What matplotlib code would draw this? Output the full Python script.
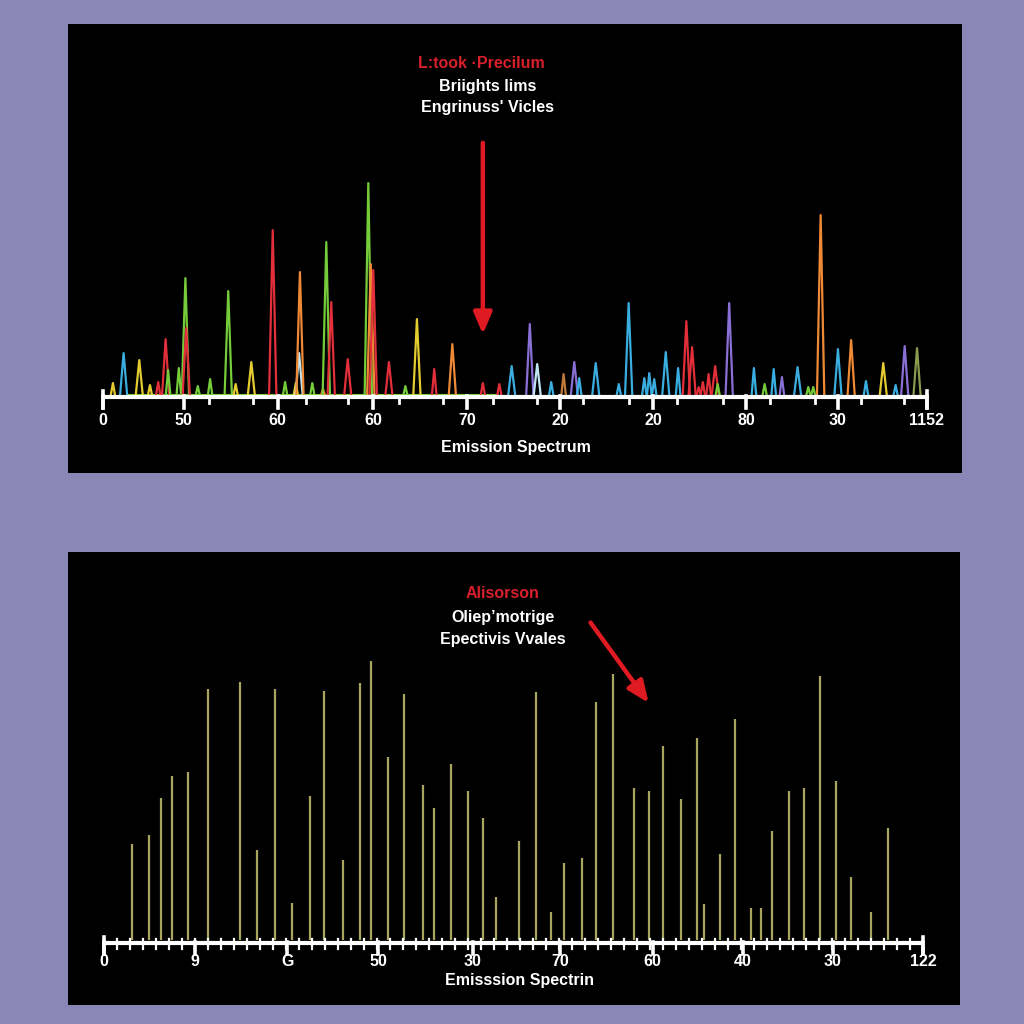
import matplotlib.pyplot as plt
import numpy as np

plt.rcParams['font.family'] = ['Liberation Sans', 'DejaVu Sans']

BG = '#8a87b7'
COLORS = {'g': '#74cc3a', 'r': '#e22f3a', 'o': '#ee8a35', 'y': '#e4cc30',
          'b': '#3aaee0', 'p': '#8a70d6', 'c': '#bfe6f2', 'n': '#c0783a',
          'v': '#8a9a50'}

# top panel: emission peaks (position, intensity, colour key)
em_pos = [1.2, 2.5, 4.4, 5.7, 6.7, 7.6, 7.9, 9.2, 10.0, 10.1, 11.5, 13.0, 15.2,
          16.1, 18.0, 20.6, 22.1, 23.4, 23.8, 23.9, 25.4, 26.7, 27.1, 27.7,
          29.7, 32.2, 32.5, 32.8, 34.7, 36.7, 38.1, 40.2, 42.4, 46.1, 48.1,
          49.6, 51.8, 52.7, 54.4, 55.9, 57.2, 57.8, 59.8, 62.6, 63.8, 65.7,
          66.3, 66.9, 68.3, 69.8, 70.8, 71.5, 72.3, 72.8, 73.5, 74.3, 74.6,
          76.0, 79.0, 80.3, 81.4, 82.4, 84.3, 85.6, 86.2, 87.1, 89.2, 90.8,
          92.6, 94.7, 96.2, 97.3, 98.8]
em_int = [14, 44, 37, 12, 15, 58, 27, 29, 119, 69, 11, 18, 106,
          13, 35, 167, 15, 14, 44, 125, 14, 8, 155, 95,
          38, 214, 133, 127, 35, 11, 78, 28, 53, 14, 13,
          31, 73, 33, 15, 23, 35, 19, 34, 13, 94, 19,
          24, 18, 45, 29, 76, 50, 10, 15, 23, 31, 13,
          94, 29, 13, 28, 20, 30, 10, 10, 182, 48, 57,
          16, 34, 12, 51, 49]
em_col = ['y', 'b', 'y', 'y', 'r', 'r', 'g', 'g', 'g', 'r', 'g', 'g', 'g',
          'y', 'y', 'r', 'g', 'y', 'c', 'o', 'g', 'o', 'g', 'r',
          'r', 'g', 'o', 'r', 'r', 'g', 'y', 'r', 'o', 'r', 'r',
          'b', 'p', 'c', 'b', 'n', 'p', 'b', 'b', 'b', 'b', 'b',
          'b', 'b', 'b', 'b', 'r', 'r', 'r', 'r', 'r', 'r', 'g',
          'p', 'b', 'g', 'b', 'p', 'b', 'g', 'g', 'o', 'b', 'o',
          'b', 'y', 'b', 'p', 'v']
em_ticks = [0, 9.8, 21.2, 32.8, 44.2, 55.5, 66.8, 78.1, 89.2, 100.0]
em_labels = ['0', '50', '60', '60', '70', '20', '20', '80', '30', '1152']
em_minor = [12.9, 18.2, 24.6, 29.7, 35.9, 41.3, 47.3, 52.7, 58.3, 63.8,
            69.7, 75.2, 80.9, 86.4, 92.0, 97.2]

# bottom panel: absorption lines
ab_pos = [3.4, 5.5, 7.0, 8.3, 10.3, 12.7, 16.6, 18.7, 20.9, 23.0, 25.1, 26.9,
          29.2, 31.3, 32.6, 34.7, 36.6, 39.0, 40.3, 42.4, 44.4, 46.3, 47.8,
          50.7, 52.7, 54.6, 56.2, 58.4, 60.1, 62.1, 64.7, 66.5, 68.3, 70.5,
          72.4, 73.2, 75.2, 77.1, 79.0, 80.2, 81.5, 83.6, 85.5, 87.4, 89.4,
          91.2, 93.6, 95.7]
ab_int = [99, 108, 145, 167, 171, 254, 261, 93, 254, 40, 147, 252,
          83, 260, 282, 186, 249, 158, 135, 179, 152, 125, 46,
          102, 251, 31, 80, 85, 241, 269, 155, 152, 197, 144,
          205, 39, 89, 224, 35, 35, 112, 152, 155, 267, 162,
          66, 31, 115]
ab_ticks = [0, 11.1, 22.4, 33.5, 45.0, 55.7, 67.0, 78.0, 89.0, 100.0]
ab_labels = ['0', '9', 'G', '50', '30', '70', '60', '40', '30', '122']

fig = plt.figure(figsize=(10.24, 10.24), dpi=100)
fig.patch.set_facecolor(BG)


def draw_axis(ax, ticks, labels, minor, lab_y, minor_up, minor_lw):
    ax.plot([ticks[0], ticks[-1]], [0, 0], color='white', lw=3,
            solid_capstyle='butt', zorder=5)
    for t, lab in zip(ticks, labels):
        ax.plot([t, t], [1, -11], color='white', lw=2.6, zorder=5)
        ax.text(t, lab_y, lab, color='white', fontsize=11.5,
                fontweight='bold', ha='center', va='center')
    for t in (ticks[0], ticks[-1]):
        ax.plot([t, t], [6, -11], color='white', lw=2.6, zorder=5)
    for t in minor:
        ax.plot([t, t], [minor_up, -6], color='white', lw=minor_lw, zorder=5)


def label(ax, x, y, s, color='white'):
    ax.text(x, y, s, color=color, fontsize=11.5, fontweight='bold',
            ha='center', va='center', transform=ax.transAxes)


# ---------- top: emission ----------
ax1 = fig.add_axes([0.0664, 0.538, 0.873, 0.4385])
ax1.set_facecolor('black')
ax1.set_xlim(-4.25, 104.25)
ax1.set_ylim(-76, 373)
ax1.set_xticks([])
ax1.set_yticks([])
for s in ax1.spines.values():
    s.set_visible(False)

ax1.plot([3, 48], [2, 2], color=COLORS['g'], lw=1.5, zorder=1)
for x, h, c in zip(em_pos, em_int, em_col):
    w = 0.3 if h < 30 else 0.45
    ax1.plot([x - w, x, x + w], [0, h, 0], color=COLORS[c], lw=1.6, zorder=2)

draw_axis(ax1, em_ticks, em_labels, em_minor, -23, 0, 2)

label(ax1, 0.462, 0.913, 'L:took \u00b7Precilum', '#d8202c')
label(ax1, 0.470, 0.862, 'Briights lims')
label(ax1, 0.469, 0.815, "Engrinuss' Vicles")
label(ax1, 0.501, 0.058, 'Emission Spectrum')
ax1.annotate('', xy=(46.1, 60), xytext=(46.1, 257),
             arrowprops=dict(arrowstyle='-|>,head_length=1.3,head_width=0.55',
                             color='#e01a22', lw=3.2))

# ---------- bottom: absorption ----------
ax2 = fig.add_axes([0.0664, 0.0186, 0.871, 0.442])
ax2.set_facecolor('black')
ax2.set_xlim(-4.4, 104.5)
ax2.set_ylim(-62, 391)
ax2.set_xticks([])
ax2.set_yticks([])
for s in ax2.spines.values():
    s.set_visible(False)

ax2.vlines(ab_pos, 3, ab_int, color='#a8a65e', lw=1.6, zorder=2)

ab_minor = np.arange(0, 100, 100 / 63)
draw_axis(ax2, ab_ticks, ab_labels, ab_minor, -19, 4, 1.6)

label(ax2, 0.487, 0.909, 'Alisorson', '#d8202c')
label(ax2, 0.488, 0.857, 'Oliep\u2019motrige')
label(ax2, 0.488, 0.808, 'Epectivis Vvales')
label(ax2, 0.506, 0.053, 'Emisssion Spectrin')
ax2.annotate('', xy=(66.7, 238), xytext=(59.2, 323),
             arrowprops=dict(arrowstyle='-|>,head_length=1.3,head_width=0.55',
                             color='#e01a22', lw=3.2))

fig.savefig('out.png', dpi=100, facecolor=BG)
